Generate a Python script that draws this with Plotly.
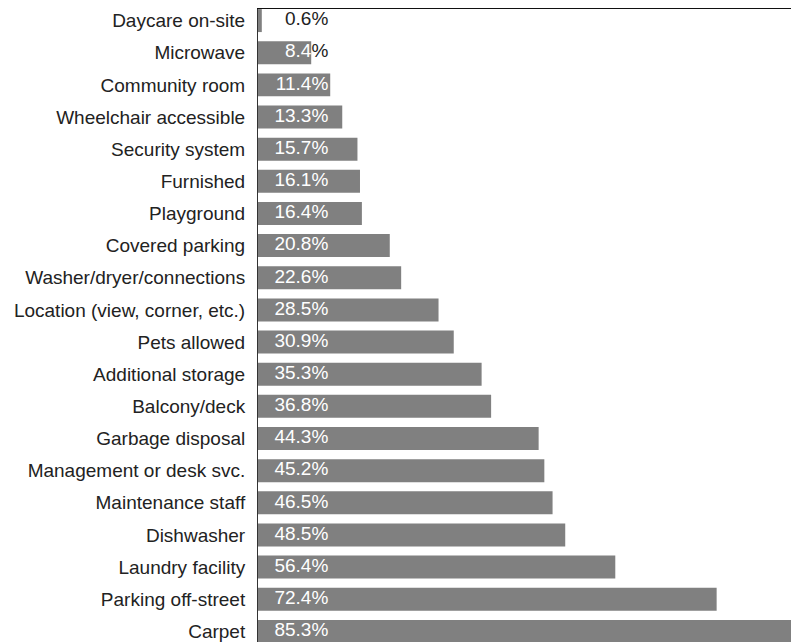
import plotly.graph_objects as go

categories = [
    "Daycare on-site", "Microwave", "Community room", "Wheelchair accessible",
    "Security system", "Furnished", "Playground", "Covered parking",
    "Washer/dryer/connections", "Location (view, corner, etc.)", "Pets allowed",
    "Additional storage", "Balcony/deck", "Garbage disposal",
    "Management or desk svc.", "Maintenance staff", "Dishwasher",
    "Laundry facility", "Parking off-street", "Carpet",
]
values = [0.6, 8.4, 11.4, 13.3, 15.7, 16.1, 16.4, 20.8, 22.6, 28.5, 30.9,
          35.3, 36.8, 44.3, 45.2, 46.5, 48.5, 56.4, 72.4, 85.3]

LABEL_X = 11.1  # right edge of value labels, in data units

def label_html(v):
    num = f"{v:.1f}"
    if v >= LABEL_X:
        return f"{num}%"
    if v >= 5:
        return f'{num}<span style="color:#222222">%</span>'
    return f'<span style="color:#222222">{num}%</span>'

texts = [label_html(v) for v in values]

FONT = "Liberation Sans, Arial, sans-serif"

fig = go.Figure()
fig.add_trace(go.Bar(
    x=values, y=categories, orientation="h",
    marker=dict(color="#808080", line=dict(width=0)),
    hoverinfo="skip",
))
fig.add_trace(go.Scatter(
    x=[LABEL_X] * len(values), y=categories, mode="text",
    text=texts, textposition="middle left",
    textfont=dict(family=FONT, size=19, color="white"),
    cliponaxis=False, hoverinfo="skip",
))

fig.update_layout(
    width=791, height=634,
    margin=dict(l=250, r=0, t=1, b=0),
    paper_bgcolor="white", plot_bgcolor="white",
    showlegend=False, bargap=0.285,
    font=dict(family=FONT, size=19, color="#222222"),
    xaxis=dict(range=[0, 85.4], side="top", showline=True, linecolor="#111111",
               linewidth=1, showticklabels=False, ticks="", showgrid=False,
               zeroline=False),
    yaxis=dict(type="category", categoryorder="array", categoryarray=categories,
               range=[19.33, -0.36], showline=True, linecolor="#333333",
               linewidth=1, ticks="", showgrid=False, zeroline=False,
               ticklabelstandoff=8,
               tickfont=dict(family=FONT, size=19, color="#222222")),
)

fig.write_html("out.html")
